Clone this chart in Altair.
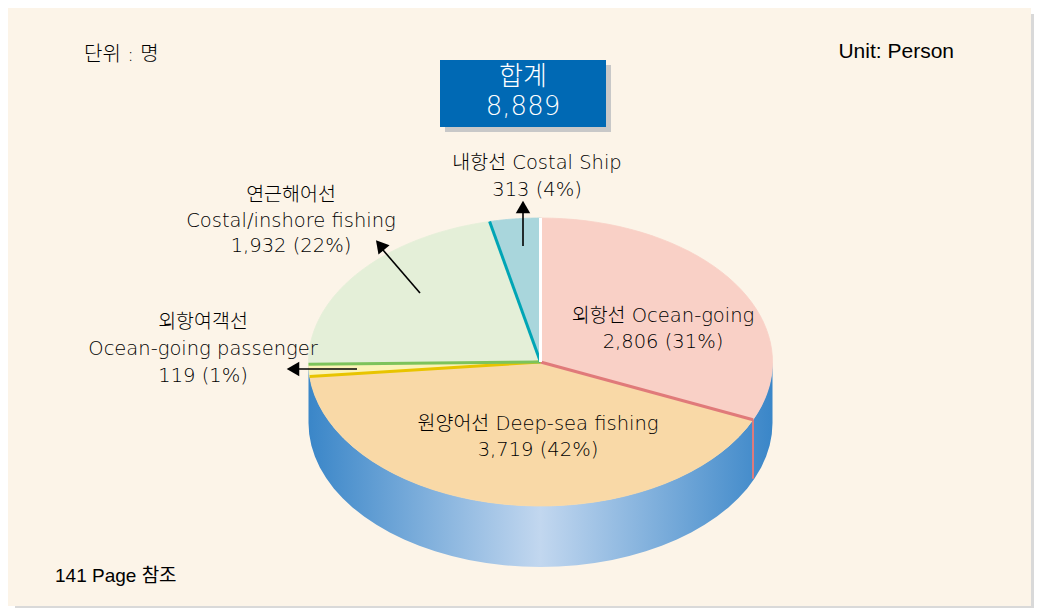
import altair as alt
import pandas as pd

# ---------------- data ----------------
categories = ["외항선 Ocean-going", "원양어선 Deep-sea fishing", "외항여객선 Ocean-going passenger",
              "연근해어선 Costal/inshore fishing", "내항선 Costal Ship"]
counts = [2806, 3719, 119, 1932, 313]
percents = [31, 42, 1, 22, 4]
total_title = "합계"
total_text = "8,889"
unit_ko = "단위 : 명"
unit_en = "Unit: Person"
footnote = "141 Page 참조"

# label lines per slice (name split as shown in picture)
label_lines = [
    ["외항선 Ocean-going", "2,806 (31%)"],
    ["원양어선 Deep-sea fishing", "3,719 (42%)"],
    ["외항여객선", "Ocean-going passenger", "119 (1%)"],
    ["연근해어선", "Costal/inshore fishing", "1,932 (22%)"],
    ["내항선 Costal Ship", "313 (4%)"],
]

# ---------------- styles / layout ----------------
face_colors = ["#F9D0C6", "#F9D9A7", "#FBF3B6", "#E4EFD8", "#A9D6DC"]
edge_colors = ["#E07A7A", "#E8C400", "#7DC35B", "#00A5B5", "#FFFFFF"]

OFF = 8
W, H = 1026, 600
CX, CY, RX, RY, DEPTH = 540.5 - OFF, 362 - OFF, 232, 144, 61

label_pos = [
    (663, [316, 342]),
    (538, [424, 450]),
    (203, [322, 349, 376]),
    (291, [195, 221, 246]),
    (537, [163, 190]),
]

FONT = "DejaVu Sans, 'Noto Sans CJK KR', sans-serif"
KFONT = "'Noto Sans CJK KR', 'Liberation Sans', sans-serif"
AFONT = "'Liberation Sans', Arial, 'Noto Sans CJK KR', sans-serif"

df = pd.DataFrame({
    "cat": categories,
    "value": counts,
    "order": list(range(len(categories))),
    "face": face_colors,
    "edge": edge_colors,
})
dummy = pd.DataFrame({"d": [0]})

xs = alt.Scale(domain=[0, W], nice=False, zero=False)
ys = alt.Scale(domain=[0, H], reverse=True, nice=False, zero=False)

def X(f):
    return alt.X(f, scale=xs, axis=None)

def Y(f):
    return alt.Y(f, scale=ys, axis=None)

layers = []

# background panel and shadow
def rect(x1, y1, x2, y2, color):
    return alt.Chart(dummy).mark_rect(color=color).encode(
        x=alt.value(x1), x2=alt.value(x2), y=alt.value(y1), y2=alt.value(y2))

layers.append(rect(1023, 6, 1026, 600, "#D9D9D9"))
layers.append(rect(7, 598, 1026, 600, "#D9D9D9"))
layers.append(rect(0, 0, 1023, 598, "#FCF4E8"))

# slices base with cumulative angles
base = alt.Chart(df).transform_joinaggregate(
    total="sum(value)"
).transform_window(
    cum="sum(value)", sort=[alt.SortField("order")], frame=[None, 0]
).transform_calculate(
    a0="2*PI*(datum.cum-datum.value)/datum.total",
    a1="2*PI*datum.cum/datum.total",
)

# side wall (front half of the cylinder)
grad = alt.LinearGradient(
    gradient="linear",
    stops=[alt.GradientStop(color="#3A86C8", offset=0),
           alt.GradientStop(color="#C2D7EF", offset=0.5),
           alt.GradientStop(color="#3A86C8", offset=1)],
    x1=0, x2=1, y1=0, y2=0,
)
side = alt.Chart(alt.sequence(0, 82, as_="k")).transform_calculate(
    th="datum.k <= 40 ? PI/2 + datum.k/40*PI : 3*PI/2 - (datum.k-41)/40*PI",
).transform_calculate(
    px=f"{CX} + {RX}*sin(datum.th)",
    py=f"{CY} - {RY}*cos(datum.th) + (datum.k > 40 ? {DEPTH} : 0)",
).mark_line(fill=grad, strokeWidth=0).encode(
    x=X("px:Q"), y=Y("py:Q"), order="k:Q")
layers.append(side)

# top faces of slices
faces = base.transform_calculate(
    k="sequence(0, 43)"
).transform_flatten(["k"]).transform_calculate(
    ang="datum.a0 + (clamp(datum.k, 1, 41) - 1)/40*(datum.a1 - datum.a0)"
).transform_calculate(
    px=f"(datum.k == 0 || datum.k == 42) ? {CX} : {CX} + {RX}*sin(datum.ang)",
    py=f"(datum.k == 0 || datum.k == 42) ? {CY} : {CY} - {RY}*cos(datum.ang)",
).mark_line(strokeWidth=0.8).encode(
    x=X("px:Q"), y=Y("py:Q"), order="k:Q", detail="cat:N",
    fill=alt.Fill("face:N", scale=None), color=alt.Color("face:N", scale=None))
layers.append(faces)

# slice boundary edges
edges = base.transform_calculate(
    k="sequence(0, 2)"
).transform_flatten(["k"]).transform_calculate(
    px=f"datum.k == 0 ? {CX} : {CX} + {RX}*sin(datum.a1)",
    py=f"datum.k == 0 ? {CY} : {CY} - {RY}*cos(datum.a1)",
).mark_line(strokeWidth=3).encode(
    x=X("px:Q"), y=Y("py:Q"), order="k:Q", detail="cat:N",
    color=alt.Color("edge:N", scale=None))
layers.append(edges)

# visible boundary on the side wall
side_edge = base.transform_filter(
    "sin(datum.a1) > 0 && cos(datum.a1) < 0"
).transform_calculate(
    k="sequence(0, 2)"
).transform_flatten(["k"]).transform_calculate(
    px=f"{CX} + {RX}*sin(datum.a1)",
    py=f"{CY} - {RY}*cos(datum.a1) + datum.k*{DEPTH - 2}",
).mark_line(strokeWidth=2).encode(
    x=X("px:Q"), y=Y("py:Q"), order="k:Q", detail="cat:N",
    color=alt.Color("edge:N", scale=None))
layers.append(side_edge)

# total box
layers.append(rect(445 - OFF, 65 - OFF, 611 - OFF, 132 - OFF, "#C8C8C8"))
layers.append(rect(440 - OFF, 60 - OFF, 606 - OFF, 127 - OFF, "#0069B4"))

def text(t, x, y, size, font=FONT, color="#000000", align="center", weight=300):
    return alt.Chart(dummy).mark_text(
        font=font, fontSize=size, color=color, align=align, baseline="middle",
        fontWeight=weight
    ).encode(x=alt.value(x - OFF), y=alt.value(y - OFF), text=alt.value(t))

layers.append(text(total_title, 523, 77, 26, font=KFONT, color="white"))
layers.append(text(total_text, 523, 107, 26, color="white"))

layers.append(text(unit_ko, 84, 55, 20, font=FONT, align="left", weight=300))
layers.append(text(unit_en, 954, 52, 21, font=AFONT, align="right", weight=400))
layers.append(text(footnote, 55, 576, 19, font=AFONT, align="left", weight=400))

# slice labels
for lines, (lx, lys) in zip(label_lines, label_pos):
    for ln, ly in zip(lines, lys):
        layers.append(text(ln, lx, ly, 19.5))

# arrows
def arrow(x1, y1, x2, y2, hx, hy, ang):
    r = alt.Chart(dummy).mark_rule(color="black", strokeWidth=1.6).encode(
        x=alt.value(x1 - OFF), y=alt.value(y1 - OFF),
        x2=alt.value(x2 - OFF), y2=alt.value(y2 - OFF))
    h = alt.Chart(dummy).mark_point(
        shape="triangle-up", filled=True, color="black", size=210, angle=ang, opacity=1
    ).encode(x=alt.value(hx - OFF), y=alt.value(hy - OFF))
    return [r, h]

layers += arrow(523, 246, 523, 212, 523, 207, 0)
layers += arrow(420, 293, 383, 250, 380, 245, 320)
layers += arrow(357, 369, 298, 369, 293, 369, 270)

chart = alt.layer(*layers).properties(
    width=W, height=H,
    autosize=alt.AutoSizeParams(type="none"),
    padding=0,
    background="white",
).configure_view(stroke="transparent")

chart.save("out.html", embed_options={"renderer": "svg", "actions": False})
